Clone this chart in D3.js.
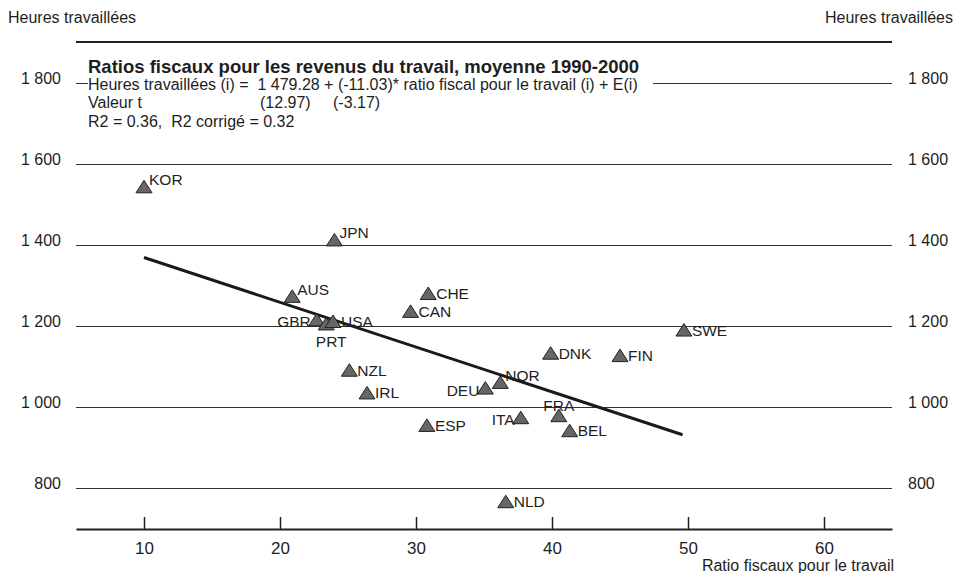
<!DOCTYPE html>
<html>
<head>
<meta charset="utf-8">
<script src="https://cdn.jsdelivr.net/npm/d3@7/dist/d3.min.js"></script>
<style>
  html, body { margin: 0; padding: 0; background: #fff; }
  svg { display: block; font-family: "Liberation Sans", Arial, Helvetica, sans-serif; }
</style>
</head>
<body>
<svg id="chart" width="963" height="573"></svg>
<script>
// ---- data ----
const countries = ["KOR","JPN","AUS","GBR","PRT","USA","CHE","CAN","SWE","DNK","FIN","NZL","NOR","DEU","IRL","ITA","FRA","BEL","ESP","NLD"];
const taxRatio  = [10.0, 24.0, 20.9, 22.7, 23.4, 23.9, 30.9, 29.6, 49.7, 39.9, 45.0, 25.1, 36.2, 35.1, 26.4, 37.7, 40.5, 41.3, 30.8, 36.6];
const hoursWorked = [1542, 1411, 1272, 1214, 1204, 1210, 1279, 1235, 1189, 1132, 1126, 1090, 1060, 1046, 1034, 973, 978, 941, 954, 766];
// label placement side for each country
const labelSide = ["ne","ne","ne","w","s","e","e","e","e","e","e","e","ne","w","e","w","n","e","e","e"];
const yTicks = [800, 1000, 1200, 1400, 1600, 1800];
const yTickLabels = ["800", "1 000", "1 200", "1 400", "1 600", "1 800"];
const xTicks = [10, 20, 30, 40, 50, 60];
const regIntercept = 1479.28, regSlope = -11.03;
const regRange = [10, 49.6];
const titleText = "Ratios fiscaux pour les revenus du travail, moyenne 1990-2000";
const eqLines = [
  "Heures travaillées (i) =\u00a0\u00a01 479.28 + (-11.03)* ratio fiscal pour le travail (i) + E(i)",
  "R2 = 0.36,\u00a0\u00a0R2 corrigé = 0.32"
];
const tValues = ["Valeur t", "(12.97)", "(-3.17)"];
const yAxisTitle = "Heures travaillées";
const xAxisTitle = "Ratio fiscaux pour le travail";

// ---- layout ----
const svg = d3.select("#chart");
const W = 963, H = 573;
svg.append("rect").attr("width", W).attr("height", H).attr("fill", "#fff");

const x = d3.scaleLinear().domain([5, 65]).range([76, 892]);
const y = d3.scaleLinear().domain([700, 1900]).range([529, 42]);
const ink = "#1e1e1e";

// gridlines
svg.append("g").selectAll("line").data(yTicks).join("line")
  .attr("x1", x(5)).attr("x2", x(65))
  .attr("y1", d => Math.round(y(d)) + 0.5).attr("y2", d => Math.round(y(d)) + 0.5)
  .attr("stroke", "#333").attr("stroke-width", 1.2);

// top frame line
svg.append("line").attr("x1", x(5)).attr("x2", x(65))
  .attr("y1", y(1900)).attr("y2", y(1900))
  .attr("stroke", "#222").attr("stroke-width", 2);

// y tick labels left and right
svg.append("g").selectAll("text").data(yTicks).join("text")
  .attr("x", 61).attr("y", d => y(d) + 1)
  .attr("text-anchor", "end").attr("font-size", 16).attr("fill", ink)
  .text((d, i) => yTickLabels[i]);
svg.append("g").selectAll("text").data(yTicks).join("text")
  .attr("x", 908).attr("y", d => y(d) + 1)
  .attr("text-anchor", "start").attr("font-size", 16).attr("fill", ink)
  .text((d, i) => yTickLabels[i]);

// x axis
const xAxis = d3.axisBottom(x).tickValues(xTicks).tickSizeInner(-12).tickSizeOuter(0).tickPadding(13);
const gx = svg.append("g").attr("transform", `translate(0,${y(700)})`).call(xAxis);
gx.select(".domain").attr("stroke", "#222").attr("stroke-width", 2);
gx.selectAll(".tick line").attr("stroke", "#222").attr("stroke-width", 1.5);
gx.selectAll(".tick text").attr("font-size", 17).attr("fill", ink)
  .attr("font-family", "'Liberation Sans Narrow', 'Liberation Sans', Arial, sans-serif");

// axis titles
svg.append("text").attr("x", 8).attr("y", 23).attr("font-size", 16).attr("fill", ink).text(yAxisTitle);
svg.append("text").attr("x", 953).attr("y", 23).attr("text-anchor", "end").attr("font-size", 16).attr("fill", ink).text(yAxisTitle);
svg.append("text").attr("x", 894).attr("y", 571).attr("text-anchor", "end").attr("font-size", 16).attr("fill", ink).text(xAxisTitle);

// text block with white background
svg.append("rect").attr("x", 88).attr("y", 56).attr("width", 565).attr("height", 78).attr("fill", "#fff");
const tb = svg.append("g").attr("fill", ink);
tb.append("text").attr("x", 88).attr("y", 73).attr("font-size", 18.5).attr("font-weight", "bold").text(titleText);
const fs = 16;
tb.append("text").attr("x", 88).attr("y", 90).attr("font-size", fs).text(eqLines[0]);
tb.append("text").attr("x", 88).attr("y", 108).attr("font-size", fs).text(tValues[0]);
tb.append("text").attr("x", 260).attr("y", 108).attr("font-size", fs).text(tValues[1]);
tb.append("text").attr("x", 333).attr("y", 108).attr("font-size", fs).text(tValues[2]);
tb.append("text").attr("x", 88).attr("y", 127).attr("font-size", fs).text(eqLines[1]);

// regression line
svg.append("line")
  .attr("x1", x(regRange[0])).attr("y1", y(regIntercept + regSlope * regRange[0]))
  .attr("x2", x(regRange[1])).attr("y2", y(regIntercept + regSlope * regRange[1]))
  .attr("stroke", "#1a1a1a").attr("stroke-width", 3);

// points
const pts = countries.map((c, i) => ({ c, x: taxRatio[i], y: hoursWorked[i], side: labelSide[i] }));
const tri = "M0,-7L8,5.5L-8,5.5Z";
const gp = svg.append("g");
gp.selectAll("path").data(pts).join("path")
  .attr("d", tri)
  .attr("transform", d => `translate(${x(d.x)},${y(d.y)})`)
  .attr("fill", "#666").attr("stroke", "#222").attr("stroke-width", 1);

const off = {
  ne: { dx: 5, dy: -2, a: "start" },
  e:  { dx: 8, dy: 5, a: "start" },
  w:  { dx: -6, dy: 7, a: "end" },
  s:  { dx: 5, dy: 23, a: "middle" },
  n:  { dx: 0, dy: -5, a: "middle" }
};
gp.selectAll("text").data(pts).join("text")
  .attr("x", d => x(d.x) + off[d.side].dx)
  .attr("y", d => y(d.y) + off[d.side].dy)
  .attr("text-anchor", d => off[d.side].a)
  .attr("font-size", 15.5).attr("fill", ink)
  .text(d => d.c);
</script>
</body>
</html>
